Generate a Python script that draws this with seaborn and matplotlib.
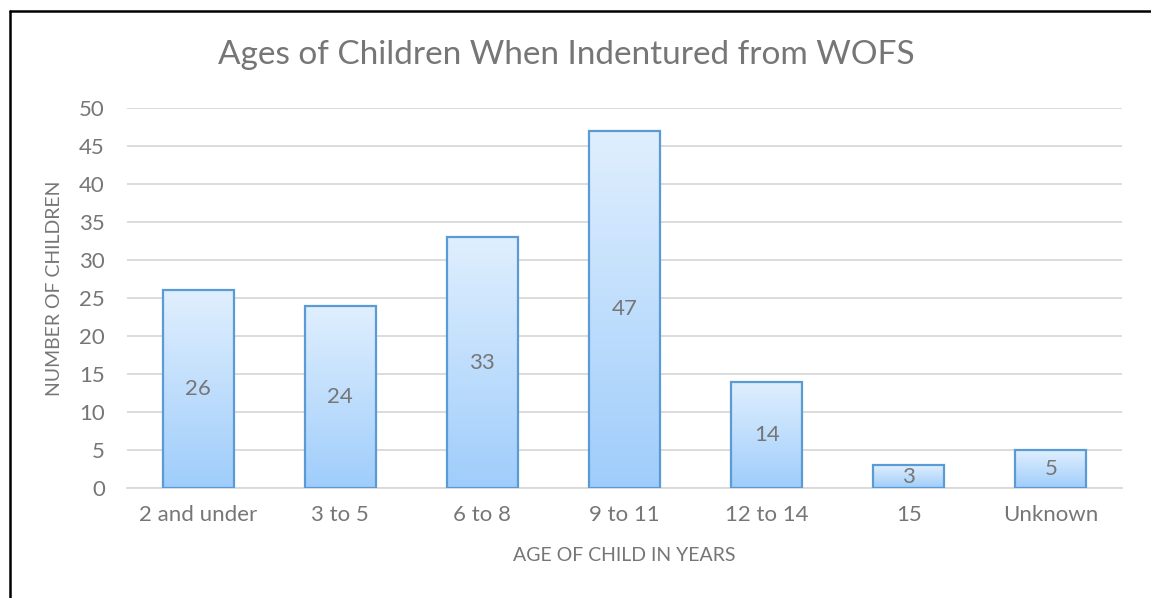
import numpy as np
import pandas as pd
import seaborn as sns
import matplotlib.pyplot as plt
from matplotlib.colors import LinearSegmentedColormap
from matplotlib.lines import Line2D

age_groups = ["2 and under", "3 to 5", "6 to 8", "9 to 11", "12 to 14", "15", "Unknown"]
children = [26, 24, 33, 47, 14, 3, 5]

df = pd.DataFrame({"age": age_groups, "count": children})

sns.set_style("white")
plt.rcParams["font.family"] = ["Lato", "DejaVu Sans"]
grey = "#767676"

fig = plt.figure(figsize=(11.51, 5.98), dpi=100)
ax = fig.add_axes([127 / 1151, 110 / 598, 995 / 1151, 380 / 598])

sns.barplot(data=df, x="age", y="count", ax=ax, width=0.5,
            color="#bcdcfc", edgecolor="#5b9bd5", linewidth=1.6, zorder=3)

# gradient fill inside each bar
cmap = LinearSegmentedColormap.from_list("grad", ["#9fcdfb", "#e0effe"])
grad = np.linspace(0, 1, 256).reshape(-1, 1)
for p in ax.patches:
    x0, y0 = p.get_x(), p.get_y()
    w, h = p.get_width(), p.get_height()
    im = ax.imshow(grad, cmap=cmap, origin="lower", aspect="auto",
                   extent=[x0, x0 + w, y0, y0 + h], zorder=2.5)
    im.set_clip_path(p)
    p.set_facecolor("none")

ax.set_xlim(-0.5, len(age_groups) - 0.5)
ax.set_ylim(0, 50)
ax.set_yticks(range(0, 51, 5))
ax.grid(axis="y", color="#d9d9d9", linewidth=1.3, zorder=0)
ax.set_axisbelow(True)
for s in ["top", "right", "left"]:
    ax.spines[s].set_visible(False)
ax.spines["bottom"].set_color("#d9d9d9")
ax.spines["bottom"].set_linewidth(1.3)

for i, v in enumerate(children):
    ax.text(i, v / 2, str(v), ha="center", va="center", fontsize=16, color=grey, zorder=5)

ax.tick_params(axis="both", length=0, labelsize=16, labelcolor=grey)
ax.tick_params(axis="x", pad=12)
ax.tick_params(axis="y", pad=16)
ax.set_xlabel("AGE OF CHILD IN YEARS", fontsize=14, color=grey, labelpad=16)
ax.set_ylabel("NUMBER OF CHILDREN", fontsize=14, color=grey, labelpad=8)
ax.yaxis.set_label_coords(-64 / 995, (598 - 288 - 110) / 380)

fig.text(566 / 1151, 1 - 55 / 598, "Ages of Children When Indentured from WOFS",
         ha="center", va="center", fontsize=24, color=grey)

# page frame around the chart
fig.add_artist(Line2D([10 / 1151, 10 / 1151], [0, 1 - 11 / 598], transform=fig.transFigure,
                      color="black", linewidth=1.8))
fig.add_artist(Line2D([10 / 1151, 1], [1 - 11 / 598, 1 - 11 / 598], transform=fig.transFigure,
                      color="black", linewidth=1.8))

fig.savefig("out.png", dpi=100, facecolor="white")
